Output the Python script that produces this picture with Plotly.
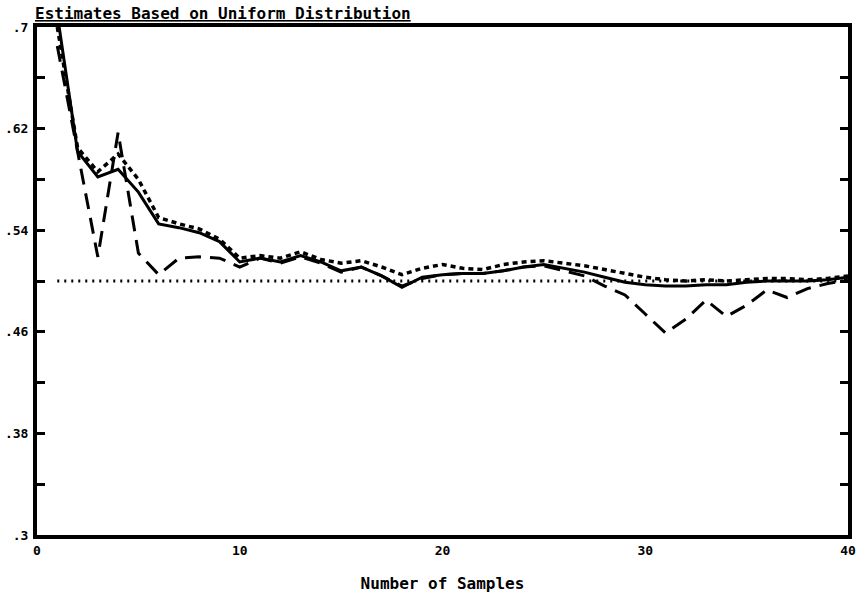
import plotly.graph_objects as go

samples = list(range(1, 41))

est_solid = [0.710, 0.602, 0.582, 0.588, 0.570, 0.545, 0.542, 0.538, 0.531, 0.515,
             0.518, 0.515, 0.520, 0.515, 0.508, 0.511, 0.504, 0.495, 0.503, 0.505,
             0.506, 0.506, 0.508, 0.511, 0.513, 0.510, 0.507, 0.503, 0.499, 0.497,
             0.496, 0.496, 0.497, 0.497, 0.499, 0.500, 0.500, 0.500, 0.501, 0.503]

est_short = [0.700, 0.605, 0.586, 0.600, 0.580, 0.550, 0.545, 0.541, 0.533, 0.518,
             0.520, 0.518, 0.523, 0.517, 0.514, 0.516, 0.511, 0.505, 0.510, 0.513,
             0.510, 0.509, 0.513, 0.515, 0.516, 0.514, 0.512, 0.509, 0.506, 0.503,
             0.501, 0.500, 0.501, 0.500, 0.501, 0.502, 0.502, 0.501, 0.502, 0.504]

est_long = [0.685, 0.602, 0.519, 0.617, 0.522, 0.505, 0.518, 0.519, 0.518, 0.511,
            0.518, 0.514, 0.519, 0.514, 0.507, 0.511, 0.504, 0.496, 0.502, 0.505,
            0.506, 0.506, 0.508, 0.511, 0.512, 0.508, 0.504, 0.496, 0.489, 0.474,
            0.459, 0.470, 0.485, 0.472, 0.481, 0.493, 0.487, 0.494, 0.498, 0.501]

ref_x = [1, 40]
ref_y = [0.5, 0.5]

y_tickvals = [0.3, 0.38, 0.46, 0.54, 0.62, 0.7]
y_ticktext = [".3", ".38", ".46", ".54", ".62", ".7"]
x_tickvals = [0, 10, 20, 30, 40]
x_ticktext = ["0", "10", "20", "30", "40"]

FONT = "DejaVu Sans Mono"

fig = go.Figure()
fig.add_trace(go.Scatter(x=ref_x, y=ref_y, mode="lines",
                         line=dict(color="black", width=3, dash="2px,5px"),
                         showlegend=False, hoverinfo="skip"))
fig.add_trace(go.Scatter(x=samples, y=est_long, mode="lines",
                         line=dict(color="black", width=3, dash="16px,9px"),
                         showlegend=False))
fig.add_trace(go.Scatter(x=samples, y=est_short, mode="lines",
                         line=dict(color="black", width=3.5, dash="5px,4px"),
                         showlegend=False))
fig.add_trace(go.Scatter(x=samples, y=est_solid, mode="lines",
                         line=dict(color="black", width=3),
                         showlegend=False))

fig.update_layout(
    width=858, height=596,
    margin=dict(l=37, r=10, t=27, b=61),
    paper_bgcolor="white", plot_bgcolor="white",
    font=dict(family=FONT, color="black", size=13),
    xaxis=dict(range=[0, 40], tickvals=x_tickvals,
               ticktext=["<b>%s</b>" % t for t in x_ticktext],
               showgrid=False, zeroline=False, automargin=False,
               ticklabeloverflow="allow",
               showline=True, linecolor="black", linewidth=4, mirror=True,
               ticks="", ticklabelstandoff=0,
               title=dict(text="<b>Number of Samples</b>",
                          font=dict(family=FONT, size=16), standoff=22)),
    yaxis=dict(range=[0.3, 0.7], tickvals=y_tickvals,
               ticktext=["<b>%s</b>" % t for t in y_ticktext],
               showgrid=False, zeroline=False, automargin=False,
               showline=True, linecolor="black", linewidth=4, mirror="ticks",
               ticks="inside", ticklen=8, tickwidth=3, tickcolor="black",
               minor=dict(dtick=0.04, tick0=0.3, ticks="inside", ticklen=8,
                          tickwidth=3, tickcolor="black"),
               ticklabelstandoff=2),
    annotations=[dict(text="<b><u>Estimates Based on Uniform Distribution</u></b>",
                      xref="paper", yref="paper", x=0, y=1, xshift=-4, yshift=2,
                      xanchor="left", yanchor="bottom", showarrow=False,
                      font=dict(family=FONT, size=16, color="black"))],
)

fig.write_html("out.html",
               config={"displayModeBar": False},
               post_script="document.body.style.margin='0';document.body.style.padding='0';")
